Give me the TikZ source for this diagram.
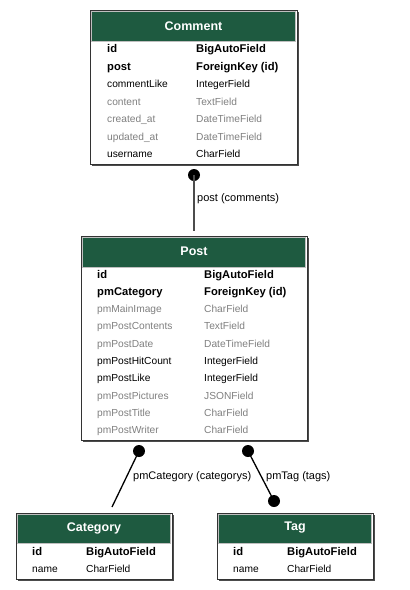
\documentclass[tikz,border=0pt]{standalone}
\usepackage{fontspec}
\setmainfont{Liberation Sans}
\definecolor{headgreen}{RGB}{30,90,64}
\tikzset{
	table/.style={draw=black!80, line width=1pt, fill=white},
	tableshadow/.style={fill=black!70},
	header/.style={fill=headgreen, draw=black!25, line width=0.8pt},
	title/.style={text=white, font=\fontsize{12.5}{14}\selectfont\bfseries},
	keyname/.style={anchor=base west, inner sep=0, font=\fontsize{11.2}{13}\selectfont\bfseries},
	fieldname/.style={anchor=base west, inner sep=0, font=\fontsize{10.2}{12}\selectfont},
	dimname/.style={fieldname, text=black!50},
	enddot/.style={circle, fill=black, inner sep=0, minimum size=12pt},
	relname/.style={anchor=west, inner sep=0, font=\fontsize{11}{12}\selectfont},
}
\begin{document}
\begin{tikzpicture}[x=1pt, y=-1pt]
		\useasboundingbox (0,0) rectangle (410,590);
		
		%%%%% COMMENT %%%%%
		\fill[tableshadow] (92,12) rectangle (298.5,165.5);
		\draw[table] (90,10) rectangle (297,164);
		\draw[header] (91.5,11.5) rectangle (295.5,41);
		\node[title] (comment) at (193.5,26) {Comment};
		\foreach \fname/\ftype/\fsty [count=\i] in {id/BigAutoField/keyname, post/ForeignKey (id)/keyname,
			commentLike/IntegerField/fieldname, content/TextField/dimname, created\_at/DateTimeField/dimname,
			updated\_at/DateTimeField/dimname, username/CharField/fieldname}
		{
			\node[\fsty] (comment-n\i) at (107, 35+17.5*\i) {\fname};
			\node[\fsty] (comment-t\i) at (196, 35+17.5*\i) {\ftype};
		}
		
		%%%%% POST %%%%%
		\fill[tableshadow] (83,238) rectangle (308.5,441.5);
		\draw[table] (81,236) rectangle (307,440);
		\draw[header] (82.5,237.5) rectangle (305.5,267);
		\node[title] (post) at (194,251) {Post};
		\foreach \fname/\ftype/\fsty [count=\i] in {id/BigAutoField/keyname, pmCategory/ForeignKey (id)/keyname,
			pmMainImage/CharField/dimname, pmPostContents/TextField/dimname, pmPostDate/DateTimeField/dimname,
			pmPostHitCount/IntegerField/fieldname, pmPostLike/IntegerField/fieldname, pmPostPictures/JSONField/dimname,
			pmPostTitle/CharField/dimname, pmPostWriter/CharField/dimname}
		{
			\node[\fsty] (post-n\i) at (97, 260.67+17.33*\i) {\fname};
			\node[\fsty] (post-t\i) at (204, 260.67+17.33*\i) {\ftype};
		}
		
		%%%%% CATEGORY %%%%%
		\fill[tableshadow] (18,515) rectangle (173.5,580.5);
		\draw[table] (16,513) rectangle (172,579);
		\draw[header] (17.5,514.5) rectangle (170.5,543);
		\node[title] (category) at (94,528) {Category};
		\node[keyname] (category-n1) at (32,555) {id};
		\node[keyname] (category-t1) at (86,555) {BigAutoField};
		\node[fieldname] (category-n2) at (32,572) {name};
		\node[fieldname] (category-t2) at (86,572) {CharField};
		
		%%%%% TAG %%%%%
		\fill[tableshadow] (219,515) rectangle (374.5,580.5);
		\draw[table] (217,513) rectangle (373,579);
		\draw[header] (218.5,514.5) rectangle (371.5,543);
		\node[title] (tag) at (295,528) {Tag};
		\node[keyname] (tag-n1) at (233,555) {id};
		\node[keyname] (tag-t1) at (287,555) {BigAutoField};
		\node[fieldname] (tag-n2) at (233,572) {name};
		\node[fieldname] (tag-t2) at (287,572) {CharField};
		
		%%%%% RELATIONS %%%%%
		\node[enddot] (comment-dot) at (194,175) {};
		\coordinate (post-in) at (194,231);
		\draw[line width=2pt, color=black!70] (comment-dot.center) -- (post-in);
		\node[relname] (comment-rel) at (197,199) {post (comments)};
		
		\node[enddot] (post-catdot) at (139,451) {};
		\coordinate (category-in) at (112,507);
		\draw[line width=1.3pt] (post-catdot.center) -- (category-in);
		\node[relname] (category-rel) at (133,477) {pmCategory (categorys)};
		
		\node[enddot] (post-tagdot) at (248,451) {};
		\node[enddot] (tag-dot) at (274,501) {};
		\draw[line width=1.3pt] (post-tagdot.center) -- (tag-dot.center);
		\node[relname] (tag-rel) at (266,477) {pmTag (tags)};
		
	\end{tikzpicture}
\end{document}
